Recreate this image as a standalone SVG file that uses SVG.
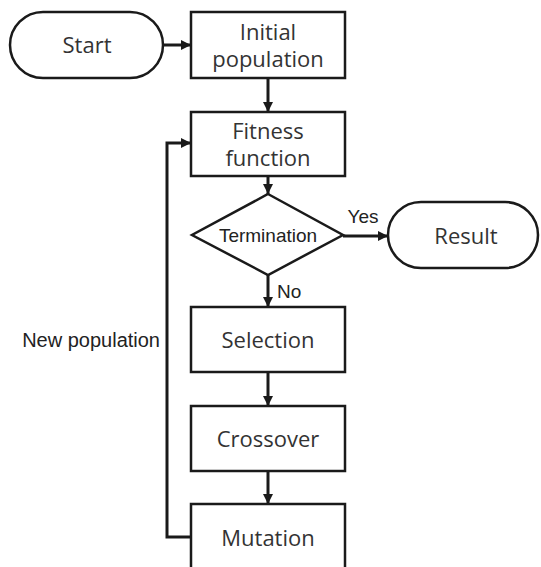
<svg xmlns="http://www.w3.org/2000/svg" width="541" height="567" viewBox="0 0 541 567">
<defs>
<marker id="ah" viewBox="0 0 10 10" refX="10" refY="5" markerWidth="10" markerHeight="10" markerUnits="userSpaceOnUse" orient="auto">
<path d="M0,0 L10,5 L0,10 Z" fill="#1a1a1a"/>
</marker>
<style>
.shape{fill:#fff;stroke:#1a1a1a;stroke-width:2.5}
.lbl{font-family:"Open Sans","Noto Sans",sans-serif;font-size:22px;fill:#333;text-anchor:middle}
.sm{font-family:"Liberation Sans",Arial,sans-serif;font-size:19px;fill:#222}
.conn{fill:none;stroke:#1a1a1a;stroke-width:3;marker-end:url(#ah)}
</style>
</defs>
<rect width="541" height="567" fill="#fff"/>
<g id="connectors">
<line class="conn" x1="164" y1="45" x2="191" y2="45"/>
<line class="conn" x1="268" y1="79" x2="268" y2="112"/>
<line class="conn" x1="268" y1="177" x2="268" y2="194"/>
<line class="conn" x1="343" y1="236" x2="388" y2="236"/>
<line class="conn" x1="268" y1="274" x2="268" y2="307"/>
<line class="conn" x1="268" y1="373" x2="268" y2="406"/>
<line class="conn" x1="268" y1="472" x2="268" y2="504"/>
<polyline class="conn" points="191,537 167,537 167,143 191,143"/>
<text class="sm" x="363" y="223" text-anchor="middle">Yes</text>
<text class="sm" x="277" y="298">No</text>
<text class="sm" x="160" y="347" text-anchor="end" style="font-size:20px">New population</text>
</g>
<g id="start">
<rect class="shape" x="10" y="12" width="153" height="66" rx="33" ry="33"/>
<text class="lbl" x="87" y="53">Start</text>
</g>
<g id="initial">
<rect class="shape" x="191" y="12" width="154" height="66"/>
<text class="lbl" x="268" y="40">Initial<tspan x="268" dy="27">population</tspan></text>
</g>
<g id="fitness">
<rect class="shape" x="191" y="112" width="154" height="64"/>
<text class="lbl" x="268" y="139">Fitness<tspan x="268" dy="27">function</tspan></text>
</g>
<g id="termination">
<polygon class="shape" points="268,194 343,235 268,275 192,235"/>
<text class="sm" x="268" y="242" text-anchor="middle">Termination</text>
</g>
<g id="result">
<rect class="shape" x="388" y="202" width="150" height="66" rx="33" ry="33"/>
<text class="lbl" x="466" y="244">Result</text>
</g>
<g id="selection">
<rect class="shape" x="191" y="307" width="154" height="65"/>
<text class="lbl" x="268" y="348">Selection</text>
</g>
<g id="crossover">
<rect class="shape" x="191" y="406" width="154" height="65"/>
<text class="lbl" x="268" y="447">Crossover</text>
</g>
<g id="mutation">
<rect class="shape" x="191" y="504" width="154" height="80"/>
<text class="lbl" x="268" y="546">Mutation</text>
</g>
</svg>
